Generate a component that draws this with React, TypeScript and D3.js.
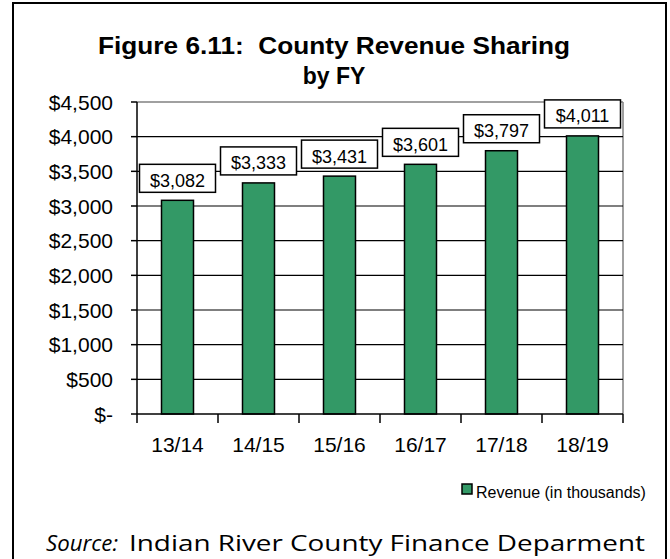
import React from "react";
import * as d3 from "d3";

const categories = ["13/14", "14/15", "15/16", "16/17", "17/18", "18/19"];
const revenue = [3082, 3333, 3431, 3601, 3797, 4011];
const yTicks = [0, 500, 1000, 1500, 2000, 2500, 3000, 3500, 4000, 4500];
const titleLines = ["Figure 6.11:  County Revenue Sharing", "by FY"];
const legendLabel = "Revenue (in thousands)";
const sourceLabel = "Source:";
const sourceText = "Indian River County Finance Deparment";

const W = 670;
const H = 559;
const left = 137;
const right = 623;
const top = 102;
const bottom = 414;
const barColor = "#339966";
const font = "Arial, 'Liberation Sans', sans-serif";

const fmt = (v: number) => (v === 0 ? "$-" : "$" + d3.format(",")(v));

export default function App() {
  const x = d3
    .scaleBand<string>()
    .domain(categories)
    .range([left, right])
    .paddingInner(0.605)
    .paddingOuter(0.3025);
  const y = d3.scaleLinear().domain([0, 4500]).range([bottom, top]);
  const step = x.step();
  const boundaries = d3.range(categories.length + 1).map((i) => left + i * step);

  return (
    <svg
      width={W}
      height={H}
      style={{ position: "absolute", left: 0, top: 0, display: "block", background: "#fff" }}
    >
      <rect x={0} y={0} width={W} height={H} fill="#fff" />
      {/* outer frame */}
      <rect x={13} y={3} width={653} height={600} fill="none" stroke="#000" strokeWidth={2} />

      {/* title */}
      <text
        x={334}
        y={53.5}
        textAnchor="middle"
        fontFamily={font}
        fontWeight="bold"
        fontSize={23}
        textLength={472}
        lengthAdjust="spacingAndGlyphs"
        style={{ whiteSpace: "pre" }}
      >
        {titleLines[0]}
      </text>
      <text x={334} y={83.5} textAnchor="middle" fontFamily={font} fontWeight="bold" fontSize={23}>
        {titleLines[1]}
      </text>

      {/* plot area border (gray top/right) */}
      <line x1={left} x2={right} y1={top} y2={top} stroke="#808080" strokeWidth={1.5} />
      <line x1={right} x2={right} y1={top} y2={bottom} stroke="#808080" strokeWidth={1.5} />

      {/* gridlines */}
      {yTicks.slice(1, -1).map((t) => (
        <line key={"g" + t} x1={left} x2={right} y1={y(t)} y2={y(t)} stroke="#000" strokeWidth={1.2} />
      ))}

      {/* y ticks and labels */}
      {yTicks.map((t) => (
        <g key={"y" + t}>
          <line x1={left - 6} x2={left} y1={y(t)} y2={y(t)} stroke="#000" strokeWidth={1.5} />
          <text
            x={113}
            y={y(t)}
            dy="0.36em"
            textAnchor="end"
            fontFamily={font}
            fontSize={21}
            fill="#000"
          >
            {fmt(t)}
          </text>
        </g>
      ))}

      {/* bars */}
      {categories.map((c, i) => (
        <rect
          key={"b" + c}
          x={x(c)!}
          y={y(revenue[i])}
          width={x.bandwidth()}
          height={y(0) - y(revenue[i])}
          fill={barColor}
          stroke="#000"
          strokeWidth={1.5}
        />
      ))}

      {/* axes */}
      <line x1={left} x2={left} y1={top} y2={bottom} stroke="#000" strokeWidth={1.5} />
      <line x1={left} x2={right} y1={bottom} y2={bottom} stroke="#000" strokeWidth={1.5} />
      {boundaries.map((bx, i) => (
        <line key={"xt" + i} x1={bx} x2={bx} y1={bottom} y2={bottom + 9} stroke="#000" strokeWidth={1.5} />
      ))}
      {categories.map((c) => (
        <text
          key={"xl" + c}
          x={x(c)! + x.bandwidth() / 2}
          y={451.5}
          textAnchor="middle"
          fontFamily={font}
          fontSize={21}
        >
          {c}
        </text>
      ))}

      {/* data labels */}
      {categories.map((c, i) => {
        const cx = x(c)! + x.bandwidth() / 2;
        const by = y(revenue[i]) - 8;
        return (
          <g key={"dl" + c}>
            <rect x={cx - 38} y={by - 28} width={76} height={28} fill="#fff" stroke="#000" strokeWidth={1.5} />
            <text x={cx} y={by - 5.5} textAnchor="middle" fontFamily={font} fontSize={18}>
              {fmt(revenue[i])}
            </text>
          </g>
        );
      })}

      {/* legend */}
      <rect x={462} y={484} width={10} height={10} fill={barColor} stroke="#000" strokeWidth={1.5} />
      <text x={476} y={498} fontFamily={font} fontSize={16}>
        {legendLabel}
      </text>

      {/* source */}
      <text
        x={46}
        y={551}
        fontFamily="'Open Sans', 'Noto Sans', sans-serif"
        fontStyle="italic"
        fontSize={21}
        textLength={72}
        lengthAdjust="spacingAndGlyphs"
      >
        {sourceLabel}
      </text>
      <text
        x={129}
        y={551}
        fontFamily="'Open Sans', 'Noto Sans', sans-serif"
        fontSize={21}
        textLength={516}
        lengthAdjust="spacingAndGlyphs"
      >
        {sourceText}
      </text>
    </svg>
  );
}
